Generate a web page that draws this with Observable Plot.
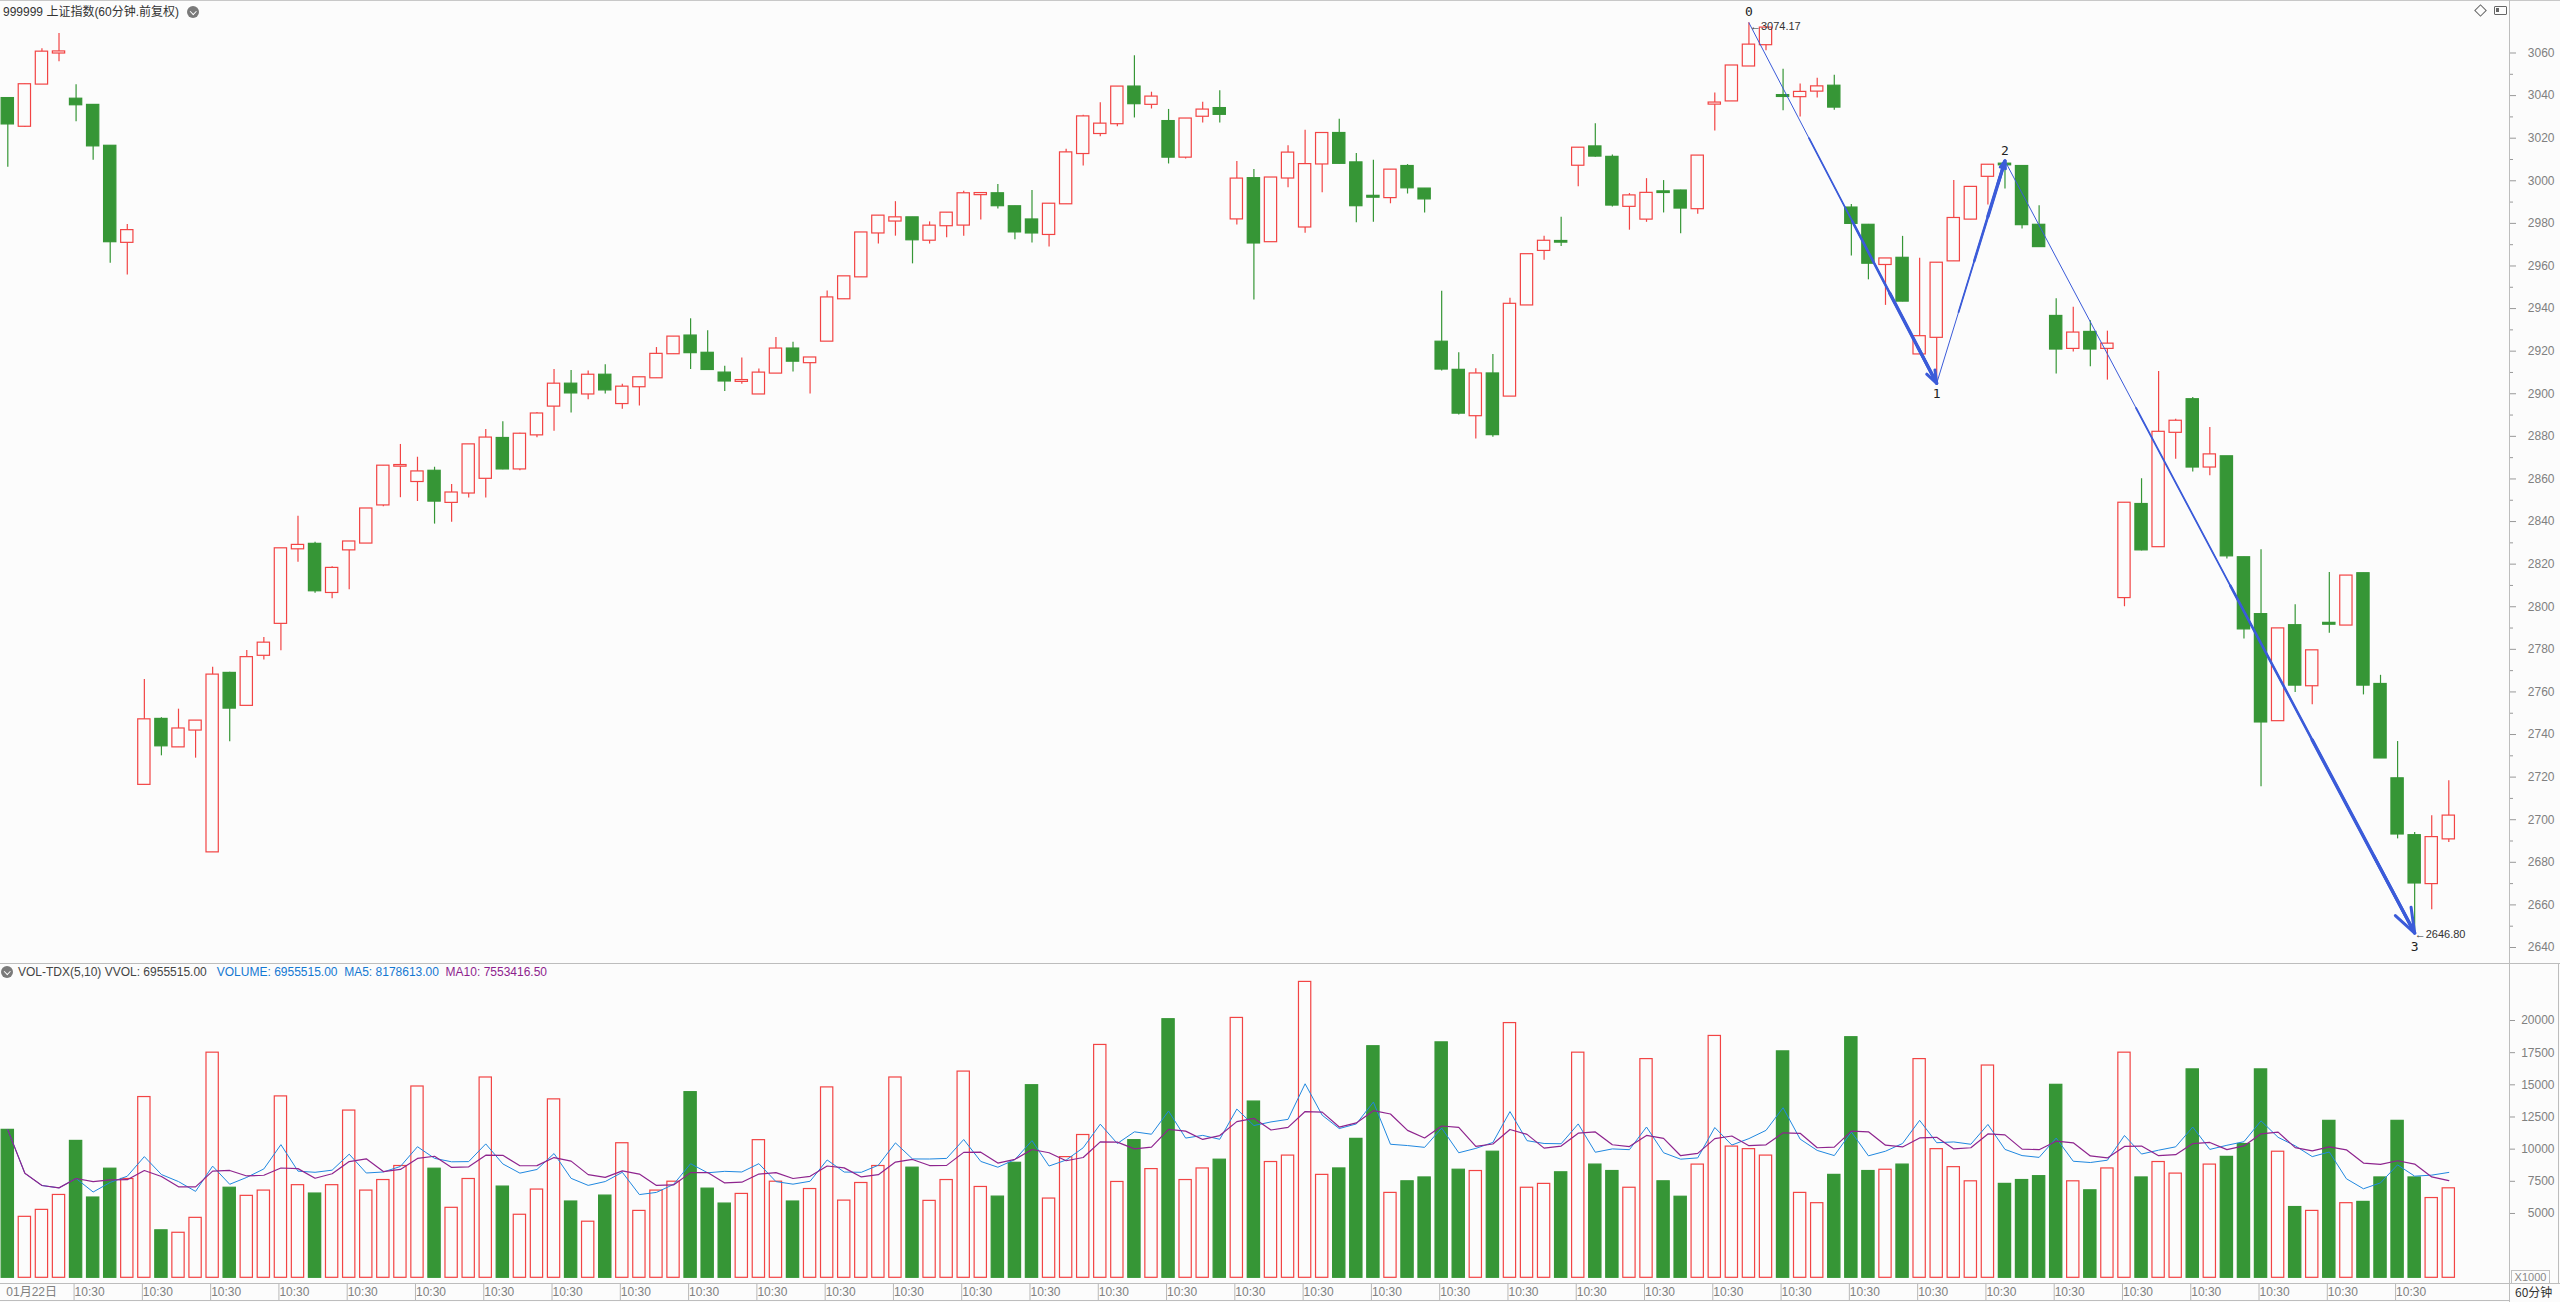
<!DOCTYPE html>
<html><head><meta charset="utf-8">
<script src="https://cdn.jsdelivr.net/npm/d3@7"></script>
<script src="https://cdn.jsdelivr.net/npm/@observablehq/plot@0.6"></script>
<style>
html,body{margin:0;padding:0;background:#fcfcfc;}
#wrap{position:relative;width:2560px;height:1302px;overflow:hidden;font-family:"Liberation Sans",Arial,"Noto Sans CJK SC",sans-serif;}
.abs{position:absolute;white-space:nowrap;}
.hl{position:absolute;height:1px;background:#bdbdbd;}
.vl{position:absolute;width:1px;background:#bdbdbd;}
.ico{position:absolute;width:12px;height:12px;border-radius:6px;background:#7a7a7a;}
.ico:after{content:"";position:absolute;left:3.5px;top:2.5px;width:3.5px;height:3.5px;border-right:1.3px solid #fff;border-bottom:1.3px solid #fff;transform:rotate(45deg);}
svg{position:absolute;left:0;}
</style></head><body><div id="wrap"></div>
<script>
// ---------- data ----------
const opens = [3038.6,3025.6,3045.4,3060.0,3038.3,3035.4,3016.2,2971.1,2716.6,2747.1,
2734.2,2742.1,2684.9,2768.7,2753.7,2777.2,2792.2,2827.2,2829.3,2806.7,
2826.7,2829.9,2847.8,2866.0,2858.8,2863.6,2849.0,2853.4,2860.3,2879.0,
2864.7,2880.7,2894.2,2904.5,2899.9,2908.7,2895.4,2903.3,2907.5,2918.8,
2927.1,2919.0,2909.7,2905.8,2899.9,2909.7,2921.0,2914.6,2924.7,2944.6,
2954.9,2975.5,2981.1,2982.6,2972.1,2978.9,2979.2,2993.5,2993.9,2987.8,
2981.6,2974.8,2989.2,3012.8,3022.2,3026.8,3044.0,3035.9,3027.8,3011.1,
3030.3,3033.9,2982.1,3001.0,2971.4,3001.3,2978.3,3007.9,3022.2,3008.4,
2992.7,2992.1,3006.7,2996.1,2924.2,2911.0,2889.7,2909.3,2898.9,2941.7,
2967.3,2971.5,3007.3,3015.9,3011.0,2988.0,2982.0,2994.8,2995.2,2986.9,
3036.0,3037.5,3053.9,3063.9,3040.0,3039.5,3042.1,3044.4,2987.2,2979.1,
2960.7,2963.6,2918.7,2926.5,2962.4,2982.0,3002.1,3007.8,3006.7,2979.1,
2936.3,2921.3,2928.8,2921.3,2804.3,2848.0,2828.2,2881.9,2897.2,2865.6,
2870.4,2823.0,2796.3,2746.5,2791.1,2762.9,2792.2,2791.4,2815.5,2763.5,
2719.2,2692.5,2670.0,2691.0];
const highs = [3038.8,3045.5,3062.0,3069.1,3045.1,3035.6,3016.4,2979.5,2765.8,2747.9,
2751.9,2746.5,2771.6,2769.2,2779.5,2785.6,2827.4,2842.5,2830.3,2818.8,
2830.6,2846.1,2866.2,2876.2,2870.2,2865.5,2857.4,2876.2,2883.2,2886.8,
2881.5,2891.2,2911.4,2910.9,2910.7,2913.6,2904.5,2907.7,2921.7,2926.8,
2935.2,2929.6,2912.9,2916.8,2911.6,2926.4,2924.2,2917.0,2948.2,2955.1,
2975.7,2983.6,2990.2,2982.8,2980.7,2985.0,2995.1,2994.2,2998.3,2988.0,
2995.4,2989.2,3014.8,3030.8,3036.6,3044.2,3058.7,3041.6,3033.5,3029.2,
3036.9,3042.3,3009.1,3005.3,3001.5,3016.5,3023.7,3022.4,3028.9,3012.8,
3009.6,3005.2,3007.6,2996.3,2948.1,2919.3,2911.8,2918.4,2944.9,2965.5,
2974.0,2982.9,3015.5,3026.8,3012.1,2994.0,3001.0,3000.1,2995.5,3011.8,
3041.2,3054.1,3074.17,3071.8,3052.4,3045.5,3048.1,3049.6,2988.9,2979.5,
2963.5,2973.9,2963.6,2961.5,3000.1,2997.2,3007.5,3009.3,3006.9,2988.3,
2944.6,2940.6,2934.3,2929.4,2848.8,2860.1,2910.4,2888.0,2898.3,2884.2,
2870.6,2823.2,2826.7,2789.8,2800.9,2779.5,2816.1,2814.6,2815.7,2767.8,
2736.7,2694.0,2701.9,2718.3];
const lows = [3006.4,3025.0,3045.2,3055.9,3027.7,3009.6,2961.3,2955.8,2716.4,2730.0,
2734.0,2728.9,2684.7,2736.6,2753.5,2775.0,2779.3,2820.9,2806.3,2803.8,
2808.0,2829.7,2847.0,2851.2,2849.4,2838.8,2839.7,2851.0,2851.0,2864.3,
2863.8,2879.3,2882.4,2891.0,2897.2,2899.9,2892.7,2894.2,2907.3,2918.6,
2911.4,2911.0,2901.1,2904.5,2899.7,2909.5,2910.2,2899.9,2924.5,2944.4,
2954.7,2970.3,2974.0,2961.0,2970.3,2973.3,2974.0,2981.6,2986.8,2972.3,
2970.8,2968.9,2989.0,3006.9,3020.7,3025.4,3029.5,3033.7,3007.9,3010.2,
3027.1,3027.1,2979.2,2944.0,2971.2,2996.7,2975.4,2994.4,3007.8,2980.3,
2980.5,2989.2,2993.8,2984.9,2910.7,2890.0,2878.8,2879.6,2898.7,2941.5,
2962.7,2969.1,2997.2,3011.0,2987.7,2976.8,2980.5,2984.9,2975.1,2984.3,
3023.4,3037.3,3053.7,3061.1,3032.9,3030.0,3038.9,3033.1,2964.7,2953.5,
2941.5,2943.2,2918.5,2904.9,2962.2,2981.7,2988.6,2996.1,2977.4,2968.9,
2909.3,2919.6,2912.7,2906.4,2800.0,2826.2,2828.0,2869.3,2863.3,2861.5,
2822.4,2784.8,2715.5,2746.3,2759.7,2754.0,2787.6,2791.2,2758.6,2729.0,
2691.0,2646.8,2657.7,2689.3];
const closes = [3026.7,3045.1,3060.4,3060.5,3035.7,3016.4,2971.4,2976.6,2746.9,2734.7,
2742.6,2746.3,2767.9,2752.4,2776.1,2782.9,2827.2,2828.8,2807.5,2818.0,
2830.4,2845.9,2866.0,2866.3,2863.3,2849.6,2853.4,2876.0,2879.2,2864.7,
2881.0,2890.5,2904.5,2900.4,2908.7,2901.8,2903.1,2907.5,2918.5,2926.6,
2919.3,2911.4,2906.0,2906.2,2909.7,2921.0,2915.3,2916.8,2945.0,2954.9,
2975.5,2983.4,2982.6,2972.3,2978.7,2984.8,2993.9,2994.0,2988.3,2976.0,
2975.5,2989.0,3013.1,3030.0,3026.6,3044.0,3036.2,3039.3,3011.1,3029.0,
3033.2,3031.2,3000.8,2970.8,3001.3,3013.0,3007.6,3022.2,3008.2,2988.3,
2992.3,3005.0,2996.7,2991.5,2911.6,2890.9,2909.3,2880.8,2942.0,2965.3,
2971.6,2971.2,3015.3,3011.6,2988.6,2992.9,2994.1,2994.5,2987.2,3011.6,
3036.5,3053.9,3063.7,3071.7,3039.6,3041.5,3044.1,3034.6,2980.0,2961.3,
2963.3,2943.5,2926.8,2961.3,2982.3,2996.9,3007.3,3007.5,2979.4,2969.1,
2921.0,2928.5,2921.0,2923.3,2848.6,2826.7,2881.9,2887.1,2865.6,2871.3,
2823.9,2789.6,2745.9,2789.6,2763.2,2779.3,2791.8,2814.4,2763.2,2729.0,
2693.3,2670.3,2691.6,2701.7];
// volume in units of 1000 (axis "X1000")
const volumes = [11500,4740,5280,6440,10640,6240,8480,7680,14050,3690,
3500,4660,17500,7000,6370,6780,14100,7200,6550,7200,
13000,6780,7600,8690,14870,8480,5440,7680,15570,7090,
4900,6860,13870,5930,4360,6390,10460,5200,6780,7470,
14430,6930,5770,6520,10700,7470,5930,6900,14800,6000,
7370,8690,15570,8560,5980,7600,16030,7060,6310,8940,
14970,6160,9380,11100,18100,7450,10700,8450,20100,7600,
8500,9180,20200,13700,9000,9500,23000,8000,8500,10800,
18000,6600,7500,7800,18300,8400,8300,9800,19800,7000,
7300,8200,17500,8800,8300,7000,17000,7500,6300,8800,
18800,10200,10000,9500,17600,6600,5800,8000,18700,8300,
8400,8800,17000,10000,8600,7500,16500,7300,7600,7900,
15000,7500,6800,8500,17500,7800,9000,8100,16200,8800,
9400,10400,16200,9800,5500,5200,12200,5800,5900,7800,
12200,7800,6200,6956];
// price and volume axis ticks
const priceTicks = [2640,2660,2680,2700,2720,2740,2760,2780,2800,2820,2840,2860,2880,2900,2920,2940,2960,2980,3000,3020,3040,3060];
const priceMinorTicks = [2650,2670,2690,2710,2730,2750,2770,2790,2810,2830,2850,2870,2890,2910,2930,2950,2970,2990,3010,3030,3050];
const volTicks = [5000,7500,10000,12500,15000,17500,20000];
// date axis labels
const dayIndex = [0,4,8,12,16,20,24,28,32,36,40,44,48,52,56,60,64,68,72,76,80,84,88,92,96,100,104,108,112,116,120,124,128,132,136,140];
const dayLabels = ["01月22日","10:30","10:30","10:30","10:30","10:30","10:30","10:30","10:30","10:30","10:30","10:30","10:30","10:30","10:30","10:30","10:30","10:30","10:30","10:30","10:30","10:30","10:30","10:30","10:30","10:30","10:30","10:30","10:30","10:30","10:30","10:30","10:30","10:30","10:30","10:30"];
// wave (zigzag) annotation points
const zzIndex = [102,113,117,141];
const zzPrice = [3074.17,2904.9,3009.3,2646.8];
const zzLabel = ["0","1","2","3"];
const zzDy = [-10.5,11,-10.5,13.5];

// ---------- styling ----------
const RED="#f24444", GREEN="#369636", BG="#fcfcfc", ZZ="#3b5bd9";
const MA5C="#2088e0", MA10C="#8e248e", AXC="#808080";

const candles = opens.map((o,i)=>({i, open:o, high:highs[i], low:lows[i], close:closes[i], volume:volumes[i], up: closes[i] >= o}));

const X = {type:"linear", domain:[0,143], range:[7.3, 2448.3], axis:null};
const wrap = document.getElementById("wrap");

// tapered wave legs
const legs = zzIndex.slice(0,-1).map((x,k)=>({x1:x, y1:zzPrice[k], x2:zzIndex[k+1], y2:zzPrice[k+1]}));
const taper = [{t:0,w:1},{t:0.32,w:1.8},{t:0.55,w:2.6},{t:0.75,w:3.4}];
const pieces = legs.flatMap(l=>taper.map(p=>({x1:l.x1+(l.x2-l.x1)*p.t, y1:l.y1+(l.y2-l.y1)*p.t, x2:l.x2, y2:l.y2, w:p.w})));
const heads = legs.map(l=>({x1:l.x1+(l.x2-l.x1)*0.9, y1:l.y1+(l.y2-l.y1)*0.9, x2:l.x2, y2:l.y2}));
const zz = zzIndex.map((x,k)=>({x, y:zzPrice[k], label:zzLabel[k], dy:zzDy[k]}));

const main = Plot.plot({
  width:2560, height:962, margin:0, marginRight:51,
  style:{background:"transparent", overflow:"visible", fontFamily:"Liberation Sans, Arial, sans-serif"},
  x:X,
  y:{domain:[2640,3060], range:[947,52.5], axis:null, label:null},
  color:{type:"identity"},
  marks:[
    Plot.ruleX(candles,{x:"i", y1:"low", y2:"high", stroke:d=>d.up?RED:GREEN, strokeWidth:1.2}),
    Plot.rect(candles,{x1:d=>d.i-0.36, x2:d=>d.i+0.36, y1:d=>Math.min(d.open,d.close), y2:d=>Math.max(d.open,d.close),
      fill:d=>d.up?BG:GREEN, stroke:d=>d.up?RED:GREEN, strokeWidth:1.2, insetTop:-0.5, insetBottom:-0.5}),
    Plot.link(pieces,{x1:"x1", y1:"y1", x2:"x2", y2:"y2", stroke:ZZ, strokeWidth:"w", strokeLinecap:"round"}),
    Plot.arrow(heads,{x1:"x1", y1:"y1", x2:"x2", y2:"y2", stroke:ZZ, strokeWidth:3, headLength:13, headAngle:40}),
    ...zz.map(d=>Plot.text([d],{x:"x", y:"y", text:"label", dy:d.dy, fill:"#222", fontSize:13, fontFamily:"DejaVu Sans Mono"})),
    Plot.text([zz[0]],{x:"x", y:"y", text:d=>"←"+d.y.toFixed(2), textAnchor:"start", dx:1, dy:4, fill:"#333", fontSize:11}),
    Plot.text([zz[3]],{x:"x", y:"y", text:d=>"←"+d.y.toFixed(2), textAnchor:"start", dx:0, dy:1.5, fill:"#333", fontSize:11}),
    Plot.axisY({anchor:"right", ticks:priceTicks, tickSize:6, tickFormat:()=>"", label:null, stroke:"#999"}),
    Plot.axisY({anchor:"right", ticks:priceMinorTicks, tickSize:3, tickFormat:()=>"", label:null, stroke:"#999"}),
    Plot.text(priceTicks,{y:d=>d, text:d=>String(d), frameAnchor:"right", dx:45, textAnchor:"end", fill:AXC, fontSize:12})
  ]
});
main.style.top="0px";
wrap.appendChild(main);

const vol = Plot.plot({
  width:2560, height:320, margin:0, marginRight:51,
  style:{background:"transparent", overflow:"visible", fontFamily:"Liberation Sans, Arial, sans-serif"},
  x:X,
  y:{domain:[0,20000], range:[315.3,58], axis:null, label:null},
  color:{type:"identity"},
  marks:[
    Plot.rect(candles,{x1:d=>d.i-0.36, x2:d=>d.i+0.36, y1:0, y2:"volume",
      fill:d=>d.up?BG:GREEN, stroke:d=>d.up?RED:GREEN, strokeWidth:1.2}),
    Plot.lineY(candles, Plot.windowY({k:5, anchor:"end"}, {x:"i", y:"volume", stroke:MA5C, strokeWidth:1})),
    Plot.lineY(candles, Plot.windowY({k:10, anchor:"end"}, {x:"i", y:"volume", stroke:MA10C, strokeWidth:1.2})),
    Plot.axisY({anchor:"right", ticks:volTicks, tickSize:5, tickFormat:()=>"", label:null, stroke:"#999"}),
    Plot.text(volTicks,{y:d=>d, text:d=>String(d), frameAnchor:"right", dx:45, textAnchor:"end", fill:AXC, fontSize:12})
  ]
});
vol.style.top="962px";
wrap.appendChild(vol);

const dates = Plot.plot({
  width:2560, height:18, margin:0, marginRight:51,
  style:{background:"transparent", overflow:"visible", fontFamily:"Liberation Sans, Arial, 'Noto Sans CJK SC', sans-serif"},
  x:X,
  marks:[
    Plot.tickX(dayIndex.filter(d=>d>0),{x:d=>d, dx:-2, stroke:"#b8b8b8"}),
    Plot.text(dayIndex,{x:d=>d, text:(d,i)=>dayLabels[i], textAnchor:"start", dx:-1.5, frameAnchor:"middle", fill:AXC, fontSize:12})
  ]
});
dates.style.top="1283px";
wrap.appendChild(dates);

// ---------- frame lines and header texts ----------
function add(html){ wrap.insertAdjacentHTML("beforeend", html); }
add('<div class="hl" style="left:0;top:0;width:2560px;background:#c8c8c8"></div>');
add('<div class="hl" style="left:0;top:963px;width:2560px"></div>');
add('<div class="hl" style="left:0;top:1283px;width:2560px"></div>');
add('<div class="hl" style="left:0;top:1300px;width:2510px"></div>');
add('<div class="vl" style="left:2509px;top:0;height:1302px"></div>');
add('<div class="vl" style="left:2558px;top:963px;height:320px"></div>');
add('<div class="abs" style="left:2511px;top:1270px;width:37px;height:12px;border:1px solid #c0c0c0;font-size:11px;line-height:12px;color:#888;text-align:center">X1000</div>');
add('<div class="abs" style="left:2515px;top:1285px;font-size:12px;line-height:14px;color:#333;font-family:\'Noto Sans CJK SC\',sans-serif">60分钟</div>');
add('<div class="abs" style="left:3px;top:5px;font-size:12px;line-height:14px;color:#333">999999 上证指数(60分钟.前复权)</div>');
add('<div class="ico" style="left:187px;top:6px"></div>');
add('<div class="ico" style="left:1px;top:966px"></div>');
add('<div class="abs" style="left:18px;top:965px;font-size:12px;line-height:14px;color:#444">VOL-TDX(5,10) VVOL: 6955515.00&nbsp;&nbsp;&nbsp;<span style="color:#1478d2">VOLUME: 6955515.00&nbsp;&nbsp;MA5: 8178613.00</span>&nbsp;&nbsp;<span style="color:#8e1e8e">MA10: 7553416.50</span></div>');
add('<div class="abs" style="left:2476px;top:6px;width:7px;height:7px;border:1px solid #666;transform:rotate(45deg)"></div>');
add('<div class="abs" style="left:2494px;top:6px;width:11px;height:7px;border:1px solid #666;border-radius:1px"></div>');
add('<div class="abs" style="left:2496px;top:8px;width:3px;height:4px;background:#666"></div>');
</script></body></html>
